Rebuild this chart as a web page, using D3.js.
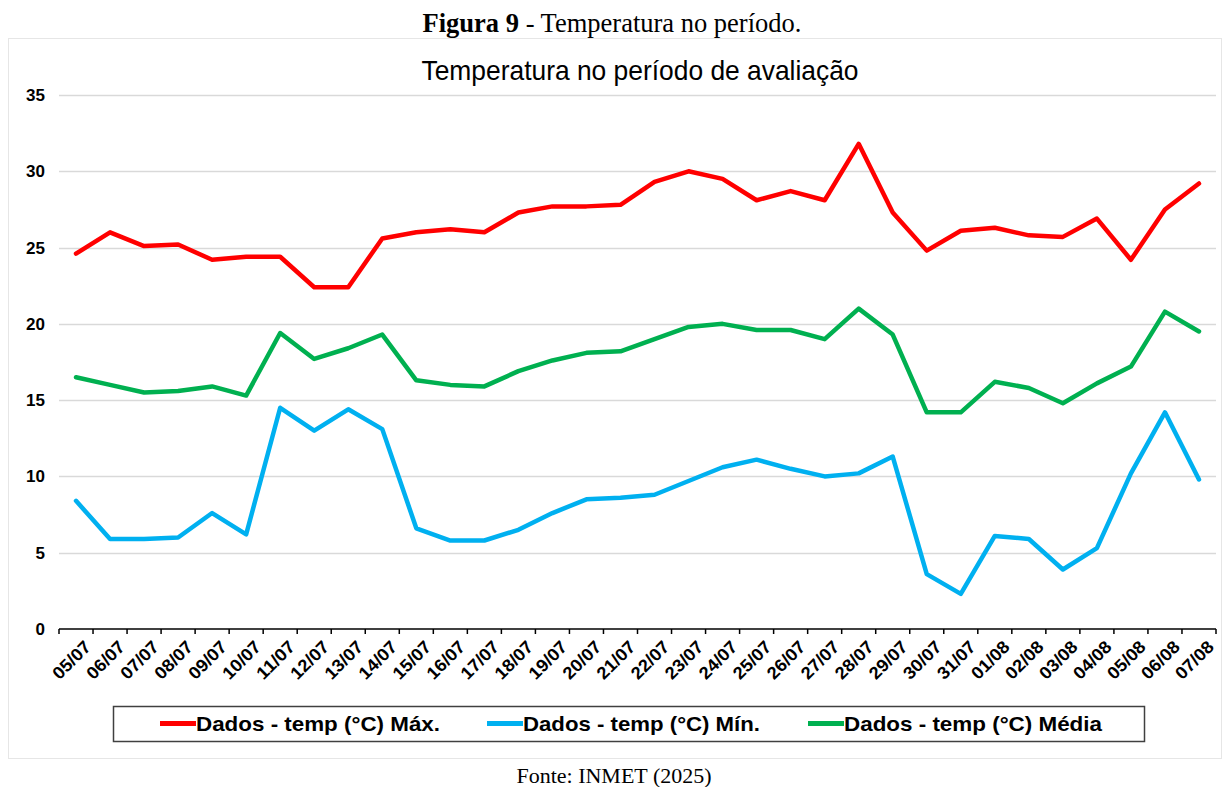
<!DOCTYPE html>
<html>
<head>
<meta charset="utf-8">
<script src="https://cdn.jsdelivr.net/npm/d3@7"></script>
<style>
  body { margin: 0; background: #fff; }
  svg { display: block; }
</style>
</head>
<body>
<div id="chart"></div>
<script>
// Dates on the x axis
var dates = ["05/07", "06/07", "07/07", "08/07", "09/07", "10/07", "11/07", "12/07", "13/07", "14/07",
  "15/07", "16/07", "17/07", "18/07", "19/07", "20/07", "21/07", "22/07", "23/07", "24/07",
  "25/07", "26/07", "27/07", "28/07", "29/07", "30/07", "31/07", "01/08", "02/08", "03/08",
  "04/08", "05/08", "06/08", "07/08"];

// Temperature series (°C)
var tempMax = [24.6, 26.0, 25.1, 25.2, 24.2, 24.4, 24.4, 22.4, 22.4, 25.6,
  26.0, 26.2, 26.0, 27.3, 27.7, 27.7, 27.8, 29.3, 30.0, 29.5,
  28.1, 28.7, 28.1, 31.8, 27.3, 24.8, 26.1, 26.3, 25.8, 25.7,
  26.9, 24.2, 27.5, 29.2];
var tempMin = [8.4, 5.9, 5.9, 6.0, 7.6, 6.2, 14.5, 13.0, 14.4, 13.1,
  6.6, 5.8, 5.8, 6.5, 7.6, 8.5, 8.6, 8.8, 9.7, 10.6,
  11.1, 10.5, 10.0, 10.2, 11.3, 3.6, 2.3, 6.1, 5.9, 3.9,
  5.3, 10.2, 14.2, 9.8];
var tempMedia = [16.5, 16.0, 15.5, 15.6, 15.9, 15.3, 19.4, 17.7, 18.4, 19.3,
  16.3, 16.0, 15.9, 16.9, 17.6, 18.1, 18.2, 19.0, 19.8, 20.0,
  19.6, 19.6, 19.0, 21.0, 19.3, 14.2, 14.2, 16.2, 15.8, 14.8,
  16.1, 17.2, 20.8, 19.5];

var yTicks = [0, 5, 10, 15, 20, 25, 30, 35];

var seriesNames = ["Dados - temp (°C) Máx.", "Dados - temp (°C) Mín.", "Dados - temp (°C) Média"];
var seriesColors = ["#ff0000", "#00b0f0", "#00b050"];

var series = [
  { name: seriesNames[0], color: seriesColors[0], values: tempMax },
  { name: seriesNames[1], color: seriesColors[1], values: tempMin },
  { name: seriesNames[2], color: seriesColors[2], values: tempMedia }
];

var svgWidth = 1228;
var svgHeight = 787;

var margin = { top: 95, right: 12, bottom: 158, left: 59 };
var plotWidth = 1216 - margin.left;
var plotHeight = 629 - margin.top;

var sans = "'Liberation Sans', Arial, sans-serif";
var serif = "'Liberation Serif', 'Times New Roman', serif";

var svg = d3.select("#chart")
  .append("svg")
  .attr("width", svgWidth)
  .attr("height", svgHeight);

// Figure caption on top
var caption = svg.append("text")
  .attr("x", 612)
  .attr("y", 32)
  .attr("text-anchor", "middle")
  .attr("font-family", serif)
  .attr("font-size", 26.5);
caption.append("tspan").attr("font-weight", "bold").text("Figura 9");
caption.append("tspan").text(" - Temperatura no período.");

// Light frame of the chart area
svg.append("rect")
  .attr("x", 8.5)
  .attr("y", 38.5)
  .attr("width", 1213)
  .attr("height", 720)
  .attr("fill", "#fff")
  .attr("stroke", "#e6e6e6")
  .attr("stroke-width", 1);

// Chart title
svg.append("text")
  .attr("x", 640)
  .attr("y", 80)
  .attr("text-anchor", "middle")
  .attr("font-family", sans)
  .attr("font-size", 28)
  .attr("textLength", 437)
  .attr("lengthAdjust", "spacingAndGlyphs")
  .attr("fill", "#000")
  .text("Temperatura no período de avaliação");

var chartGroup = svg.append("g")
  .attr("transform", `translate(${margin.left}, ${margin.top})`);

var xScale = d3.scaleBand()
  .domain(dates)
  .range([0, plotWidth]);

var yScale = d3.scaleLinear()
  .domain([0, 35])
  .range([plotHeight, 0]);

// Horizontal gridlines
chartGroup.append("g")
  .selectAll("line")
  .data(yTicks.filter(d => d > 0))
  .enter()
  .append("line")
  .attr("x1", 0)
  .attr("x2", plotWidth)
  .attr("y1", d => Math.round(yScale(d)) + 0.5)
  .attr("y2", d => Math.round(yScale(d)) + 0.5)
  .attr("stroke", "#d9d9d9")
  .attr("stroke-width", 1.5);

// Y axis labels
var leftAxis = d3.axisLeft(yScale).tickValues(yTicks).tickSize(0).tickPadding(14);
var yAxis = chartGroup.append("g").call(leftAxis);
yAxis.select(".domain").remove();
yAxis.selectAll("text")
  .attr("font-family", sans)
  .attr("font-size", 17)
  .attr("font-weight", "bold")
  .attr("fill", "#000");

// X axis with ticks at category boundaries
var xAxis = chartGroup.append("g")
  .attr("transform", `translate(0, ${plotHeight})`);

xAxis.append("line")
  .attr("x1", 0)
  .attr("x2", plotWidth)
  .attr("y1", 0)
  .attr("y2", 0)
  .attr("stroke", "#000")
  .attr("stroke-width", 1.5);

xAxis.selectAll(".tickmark")
  .data(dates.map((d, i) => i).concat([dates.length]))
  .enter()
  .append("line")
  .attr("x1", i => i * xScale.step())
  .attr("x2", i => i * xScale.step())
  .attr("y1", 0)
  .attr("y2", 5)
  .attr("stroke", "#000")
  .attr("stroke-width", 1.5);

xAxis.selectAll(".xlabel")
  .data(dates)
  .enter()
  .append("text")
  .attr("transform", d => `translate(${xScale(d) + xScale.bandwidth() / 2 + 7}, 10) rotate(-45)`)
  .attr("text-anchor", "end")
  .attr("dy", "0.72em")
  .attr("font-family", sans)
  .attr("font-size", 17.5)
  .attr("font-weight", "bold")
  .attr("textLength", 46)
  .attr("lengthAdjust", "spacingAndGlyphs")
  .attr("fill", "#000")
  .text(d => d);

// Lines
var line = d3.line()
  .x((d, i) => xScale(dates[i]) + xScale.bandwidth() / 2)
  .y(d => yScale(d));

chartGroup.selectAll(".series")
  .data(series)
  .enter()
  .append("path")
  .attr("d", d => line(d.values))
  .attr("fill", "none")
  .attr("stroke", d => d.color)
  .attr("stroke-width", 4.5)
  .attr("stroke-linejoin", "round")
  .attr("stroke-linecap", "round");

// Legend
svg.append("rect")
  .attr("x", 113.5)
  .attr("y", 706.5)
  .attr("width", 1031)
  .attr("height", 35)
  .attr("fill", "#fff")
  .attr("stroke", "#404040")
  .attr("stroke-width", 1.5);

var legendX = [160, 487, 808];
var legendTextLength = [244, 237, 258];
var legendGroup = svg.selectAll(".legend")
  .data(series)
  .enter()
  .append("g")
  .attr("transform", (d, i) => `translate(${legendX[i]}, 723.5)`);

legendGroup.append("line")
  .attr("x1", 0)
  .attr("x2", 36)
  .attr("stroke", d => d.color)
  .attr("stroke-width", 5);

legendGroup.append("text")
  .attr("x", 36)
  .attr("dy", "0.36em")
  .attr("font-family", sans)
  .attr("font-size", 21)
  .attr("font-weight", "bold")
  .attr("textLength", (d, i) => legendTextLength[i])
  .attr("lengthAdjust", "spacingAndGlyphs")
  .attr("fill", "#000")
  .text(d => d.name);

// Source
svg.append("text")
  .attr("x", 614)
  .attr("y", 783)
  .attr("text-anchor", "middle")
  .attr("font-family", serif)
  .attr("font-size", 22)
  .attr("fill", "#000")
  .text("Fonte: INMET (2025)");
</script>
</body>
</html>
